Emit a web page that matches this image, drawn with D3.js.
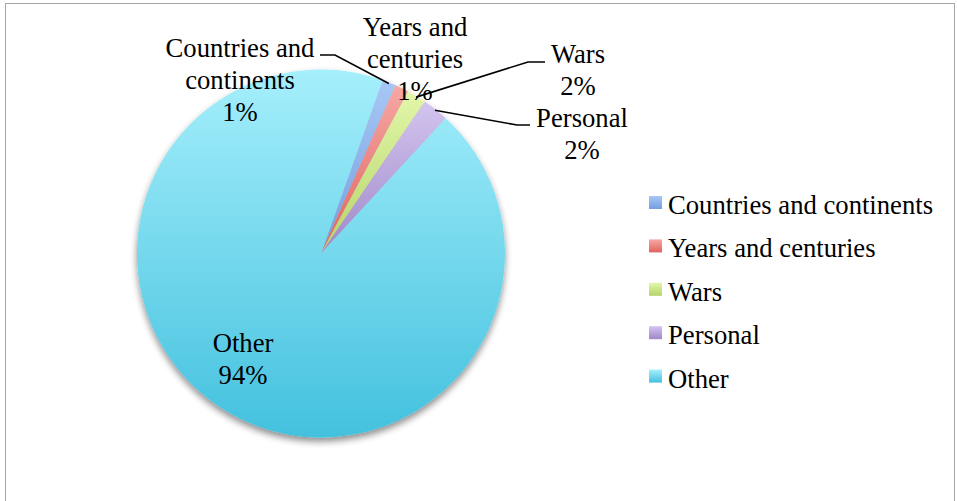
<!DOCTYPE html>
<html>
<head>
<meta charset="utf-8">
<script src="https://cdn.jsdelivr.net/npm/d3@7"></script>
<style>
  html, body { margin: 0; padding: 0; background: #fff; }
  svg { display: block; }
</style>
</head>
<body>
<svg id="chart" width="957" height="501"></svg>
<script>
// ---- data ----
const categories = ["Countries and continents", "Years and centuries", "Wars", "Personal", "Other"];
const values = [1.2, 1.2, 1.7, 2.3, 93.6];
const percentLabels = ["1%", "1%", "2%", "2%", "94%"];

// ---- styles / layout ----
const colorsTop = ["#a8c7f5", "#f5a8a5", "#e3f6aa", "#d3c4ef", "#a6effc"];
const colorsBottom = ["#729fdf", "#e0625d", "#b3d468", "#9f88c7", "#43c1de"];
const W = 957, H = 501;
const cx = 321, cy = 253.5, R = 184;
const startDeg = 19.6;
const fontSize = 26.67;
const FONT = '"Liberation Serif", "Times New Roman", serif';

const svg = d3.select("#chart");
svg.append("rect").attr("width", W).attr("height", H).attr("fill", "#fff");
svg.append("rect").attr("x", 5.5).attr("y", 3.5).attr("width", 949).attr("height", 620)
  .attr("fill", "none").attr("stroke", "#a6a6a6").attr("stroke-width", 1);

const defs = svg.append("defs");
categories.forEach((c, i) => {
  const g = defs.append("linearGradient").attr("id", "grad" + i)
    .attr("x1", 0).attr("y1", 0).attr("x2", 0).attr("y2", 1);
  g.append("stop").attr("offset", "0%").attr("stop-color", colorsTop[i]);
  g.append("stop").attr("offset", "100%").attr("stop-color", colorsBottom[i]);
});
const f = defs.append("filter").attr("id", "shadow")
  .attr("x", "-10%").attr("y", "-10%").attr("width", "120%").attr("height", "125%");
f.append("feGaussianBlur").attr("in", "SourceAlpha").attr("stdDeviation", 3.5).attr("result", "b");
f.append("feOffset").attr("in", "b").attr("dx", 0).attr("dy", 4).attr("result", "o");
f.append("feComponentTransfer").attr("in", "o").attr("result", "oa")
  .append("feFuncA").attr("type", "linear").attr("slope", 0.45);
const fm = f.append("feMerge");
fm.append("feMergeNode").attr("in", "oa");
fm.append("feMergeNode").attr("in", "SourceGraphic");

const pie = d3.pie().sort(null).value(d => d)
  .startAngle(startDeg * Math.PI / 180)
  .endAngle(startDeg * Math.PI / 180 + 2 * Math.PI);
const arcs = pie(values);
const arc = d3.arc().innerRadius(0).outerRadius(R);

const pg = svg.append("g").attr("transform", `translate(${cx},${cy})`).attr("filter", "url(#shadow)");
pg.selectAll("path").data(arcs).enter().append("path")
  .attr("d", arc)
  .attr("fill", (d, i) => `url(#grad${i})`);

// ---- data labels ----
const labelLayout = [
  { x: 240, y: 57, leader: [[320, 55], [335, 55]] },
  { x: 415, y: 36 },
  { x: 578, y: 63, leader: [[545, 62], [528, 62]] },
  { x: 582, y: 127, leader: [[530, 125], [517, 125]] },
  { x: 243, y: 352 }
];
const lineH = 32;
const lg = svg.append("g");
arcs.forEach((a, i) => {
  const L = labelLayout[i];
  let lines;
  if (i === 0) lines = ["Countries and", "continents"];
  else if (i === 1) lines = ["Years and", "centuries"];
  else lines = [categories[i]];
  lines = lines.concat([percentLabels[i]]);
  if (L.leader) {
    const mid = (a.startAngle + a.endAngle) / 2;
    const rr = R - 1;
    const px = cx + rr * Math.sin(mid), py = cy - rr * Math.cos(mid);
    const pts = L.leader.concat([[px, py]]);
    lg.append("path").attr("d", d3.line()(pts))
      .attr("fill", "none").attr("stroke", "#000").attr("stroke-width", 1.6);
  }
  const t = lg.append("text").attr("text-anchor", "middle")
    .style("font-family", FONT).style("font-size", fontSize + "px").attr("fill", "#000");
  lines.forEach((s, k) => {
    t.append("tspan").attr("x", L.x).attr("y", L.y + k * lineH).text(s);
  });
});

// ---- legend ----
const leg = svg.append("g");
categories.forEach((c, i) => {
  const by = 214 + i * 43.4;
  leg.append("rect").attr("x", 649).attr("y", by - 18).attr("width", 13).attr("height", 13)
    .attr("fill", `url(#grad${i})`);
  leg.append("text").attr("x", 668).attr("y", by)
    .style("font-family", FONT).style("font-size", fontSize + "px").attr("fill", "#000").text(c);
});
</script>
</body>
</html>
